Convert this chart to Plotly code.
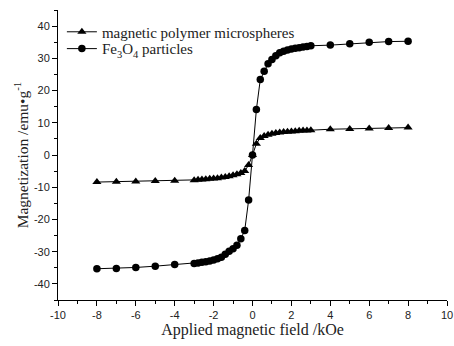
import plotly.graph_objects as go

# Fe3O4 particles
fe_x = [-8, -7, -6, -5, -4, -3.0, -2.8, -2.6, -2.4, -2.2, -2.0, -1.8, -1.6, -1.4, -1.2, -1.0, -0.8, -0.6, -0.4, -0.2,
        0, 0.2, 0.4, 0.6, 0.8, 1.0, 1.2, 1.4, 1.6, 1.8, 2.0, 2.2, 2.4, 2.6, 2.8, 3.0, 4, 5, 6, 7, 8]
fe_y = [-35.3, -35.2, -34.9, -34.5, -34.0, -33.7, -33.5, -33.3, -33.1, -32.9, -32.6, -32.2, -31.7, -30.8, -29.9, -29.1, -28.0, -26.0, -23.4, -14.0,
        0, 14.1, 23.4, 26.0, 28.3, 29.6, 30.8, 31.7, 32.2, 32.6, 32.9, 33.1, 33.3, 33.5, 33.7, 33.9, 34.1, 34.5, 35.0, 35.2, 35.3]

# magnetic polymer microspheres
mp_x = [-8, -7, -6, -5, -4, -3.0, -2.8, -2.6, -2.4, -2.2, -2.0, -1.8, -1.6, -1.4, -1.2, -1.0, -0.8, -0.6, -0.4, -0.2,
        0, 0.2, 0.4, 0.6, 0.8, 1.0, 1.2, 1.4, 1.6, 1.8, 2.0, 2.2, 2.4, 2.6, 2.8, 3.0, 4, 5, 6, 7, 8]
mp_y = [-8.4, -8.3, -8.2, -8.1, -8.0, -7.8, -7.7, -7.6, -7.5, -7.4, -7.3, -7.2, -7.0, -6.8, -6.6, -6.3, -6.0, -5.6, -5.0, -3.1,
        0, 3.5, 5.3, 5.9, 6.3, 6.6, 6.8, 7.0, 7.1, 7.2, 7.3, 7.4, 7.5, 7.6, 7.6, 7.7, 8.0, 8.1, 8.2, 8.4, 8.5]

x_ticks = [-10, -8, -6, -4, -2, 0, 2, 4, 6, 8, 10]
x_labels = ["-10", "-8", "-6", "-4", "-2", "0", "2", "4", "6", "8", "10"]
y_ticks = [-40, -30, -20, -10, 0, 10, 20, 30, 40]
y_labels = ["-40", "-30", "-20", "-10", "0", "10", "20", "30", "40"]

SERIF = "Liberation Serif, Times New Roman, serif"
SANS = "Liberation Sans, Arial, sans-serif"

fig = go.Figure()
fig.add_trace(go.Scatter(
    x=mp_x, y=mp_y, mode="lines+markers", name="magnetic polymer microspheres",
    line=dict(color="black", width=1),
    marker=dict(symbol="triangle-up", size=8, color="black"),
    legend="legend",
))
fig.add_trace(go.Scatter(
    x=fe_x, y=fe_y, mode="lines+markers", name="Fe<sub>3</sub>O<sub>4</sub> particles",
    line=dict(color="black", width=1),
    marker=dict(symbol="circle", size=7.5, color="black"),
    legend="legend2",
))

axis_common = dict(
    showline=True, linecolor="black", linewidth=1, mirror=False,
    ticks="outside", ticklen=5, tickwidth=1, tickcolor="black",
    showgrid=False, zeroline=False, automargin=False,
    tickfont=dict(family=SANS, size=11, color="#222"),
)

legend_common = dict(
    xanchor="left", yanchor="middle",
    bgcolor="rgba(0,0,0,0)", borderwidth=0,
    font=dict(family=SERIF, size=15, color="#222"),
    itemwidth=30,
)

fig.update_layout(
    width=454, height=346,
    margin=dict(l=58, r=7, t=10, b=46),
    paper_bgcolor="white", plot_bgcolor="white",
    showlegend=True,
    legend=dict(x=0.01, y=0.924, **legend_common),
    legend2=dict(x=0.01, y=0.866, **legend_common),
    xaxis=dict(
        range=[-10, 10], tickvals=x_ticks, ticktext=x_labels,
        minor=dict(ticks="outside", ticklen=3, dtick=1, tickcolor="black"),
        title=dict(text="Applied magnetic field /kOe", standoff=2,
                   font=dict(family=SERIF, size=16, color="#222")),
        **axis_common,
    ),
    yaxis=dict(
        range=[-45, 45], tickvals=y_ticks, ticktext=y_labels,
        minor=dict(ticks="outside", ticklen=3, dtick=5, tickcolor="black"),
        title=dict(text="Magnetization /emu•g<sup>-1</sup>", standoff=1,
                   font=dict(family=SERIF, size=15.5, color="#222")),
        **axis_common,
    ),
)

fig.write_html(
    "out.html",
    config={"displayModeBar": False},
    post_script="document.body.style.margin='0';document.body.style.overflow='hidden';",
)
